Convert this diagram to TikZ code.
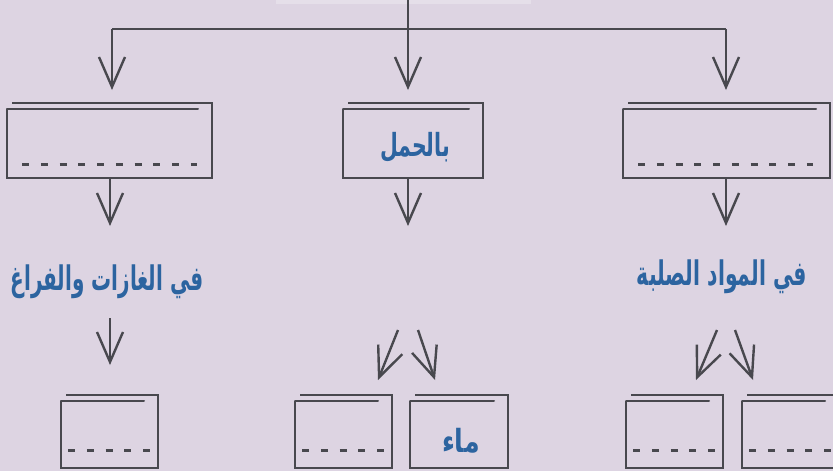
\documentclass[tikz,border=0pt]{standalone}
\usepackage{fontspec}
\usepackage{graphicx}
\usetikzlibrary{arrows.meta}
\newfontfamily\arabicfont[Script=Arabic]{DejaVu Sans}
\TeXXeTstate=1
\definecolor{bg}{HTML}{DDD4E2}
\definecolor{ink}{HTML}{48484E}
\definecolor{artext}{HTML}{2C64A0}
\tikzset{
  boxnode/.style={rectangle, draw=none, inner sep=0pt, outer sep=0pt},
  boxline/.style={draw=ink, line width=2.6pt, line join=miter},
  topsheet/.style={draw=ink, line width=2pt, line cap=round},
  dashln/.style={draw=ink, line width=3pt, dash pattern=on 7pt off 11.75pt},
  plainln/.style={draw=ink, line width=2.6pt},
  conn/.style={draw=ink, line width=2.4pt, -{Straight Barb[length=30pt,width=26pt,line width=2.4pt]}},
  lbl/.style={inner sep=0pt, outer sep=0pt, text=artext}
}
\begin{document}
\begin{tikzpicture}[x=1pt,y=-1pt]
\fill[bg] (0,0) rectangle (833,471);
\useasboundingbox (0,0) rectangle (833,471);
\fill[bg!75!white] (276,0) rectangle (531,4);

% top row boxes
\node[boxnode, minimum width=205pt, minimum height=75pt] (tl) at (109.5,140.5) {};
\node[boxnode, minimum width=140pt, minimum height=75pt] (tm) at (413,140.5) {};
\node[boxnode, minimum width=207pt, minimum height=75pt] (tr) at (726.5,140.5) {};
% bottom row boxes
\node[boxnode, minimum width=97pt, minimum height=73pt] (bl) at (109.5,431.5) {};
\node[boxnode, minimum width=97pt, minimum height=73pt] (bm1) at (343.5,431.5) {};
\node[boxnode, minimum width=98pt, minimum height=73pt] (bm2) at (459,431.5) {};
\node[boxnode, minimum width=97pt, minimum height=73pt] (br1) at (674.5,431.5) {};
\node[boxnode, minimum width=97pt, minimum height=73pt] (br2) at (790.5,431.5) {};

\foreach \n in {tl,tm,tr,bl,bm1,bm2,br1,br2}{
  \draw[boxline] ([yshift=-6pt]\n.north west) -- (\n.south west) -- (\n.south east) -- (\n.north east) -- ([xshift=5pt]\n.north west);
  \draw[topsheet] ([yshift=-6pt]\n.north west) -- ([xshift=-14pt,yshift=-6pt]\n.north east);
}

% dashed answer lines
\draw[dashln] ([xshift=15pt,yshift=14pt]tl.south west) -- ++(175,0);
\draw[dashln] ([xshift=15pt,yshift=14pt]tr.south west) -- ++(175,0);
\foreach \n in {bl,bm1,br1,br2}{
  \draw[dashln] ([xshift=7pt,yshift=18pt]\n.south west) -- ++(82,0);
}

% texts
\node[lbl] (tmtext) at (415,147) {\resizebox*{70pt}{30pt}{\arabicfont\bfseries\beginR بالحمل\endR}};
\node[lbl] (gl) at (107,282) {\resizebox*{193pt}{34pt}{\arabicfont\bfseries\beginR في الغازات والفراغ\endR}};
\node[lbl] (sr) at (722,277) {\resizebox*{170pt}{34pt}{\arabicfont\bfseries\beginR في المواد الصلبة\endR}};
\node[lbl] (water) at (461,440.5) {\resizebox*{38pt}{25pt}{\arabicfont\bfseries\beginR ماء\endR}};

% top connectors
\coordinate (src) at (408,0);
\coordinate (jl) at (112,29);
\coordinate (jc) at (408,29);
\coordinate (jr) at (726,29);
\draw[plainln] (jl) -- (jr);
\draw[plainln] (src) -- (jc);
\draw[conn, shorten >=13pt] (jl) -- (jl |- tl.north);
\draw[conn, shorten >=13pt] (jc) -- (jc |- tm.north);
\draw[conn, shorten >=13pt] (jr) -- (jr |- tr.north);

% arrows under top boxes
\coordinate (tipl) at (110,226);
\coordinate (tipm) at (408,226);
\coordinate (tipr) at (726,226);
\draw[conn] (tipl |- tl.south) -- (tipl);
\draw[conn] (tipm |- tm.south) -- (tipm);
\draw[conn] (tipr |- tr.south) -- (tipr);

% bottom arrows
\coordinate (gls) at (110,318);
\coordinate (blt) at (110,365);
\draw[conn] (gls) -- (blt);
\coordinate (ma) at (398,330);
\coordinate (mat) at (378,380);
\coordinate (mb) at (418,330);
\coordinate (mbt) at (435,380);
\draw[conn] (ma) -- (mat);
\draw[conn] (mb) -- (mbt);
\coordinate (ra) at (717,330);
\coordinate (rat) at (696,380);
\coordinate (rb) at (735,330);
\coordinate (rbt) at (753,380);
\draw[conn] (ra) -- (rat);
\draw[conn] (rb) -- (rbt);
\end{tikzpicture}
\end{document}
